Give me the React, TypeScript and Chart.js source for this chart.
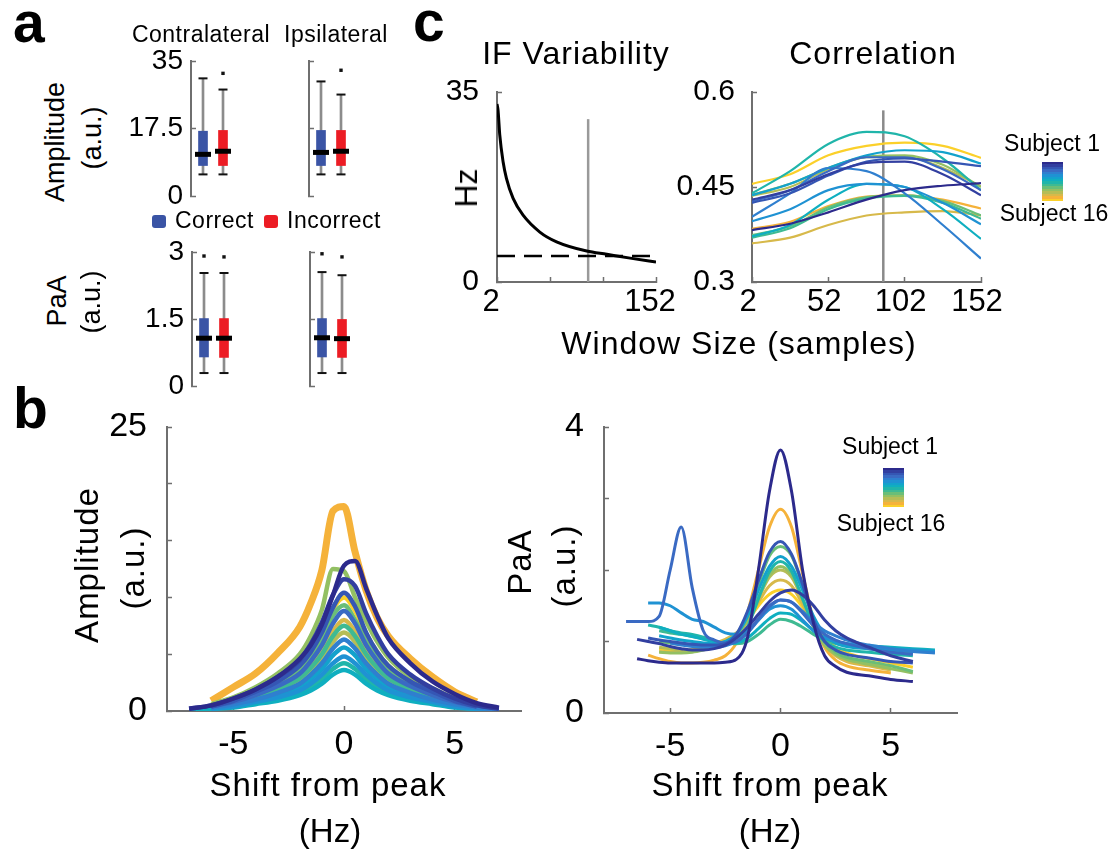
import React, { useEffect, useRef } from 'react';
import { Chart, registerables } from 'chart.js';

Chart.register(...registerables);

const FONT = "'Liberation Sans', Arial, Helvetica, sans-serif";
Chart.defaults.font.family = FONT;
Chart.defaults.color = '#000';

const AXIS = '#6f6f6f';

// ---------- shared: subject colours (Subject 1 .. Subject 16)
const SUBJECT_COLORS = [
  '#2c2a8c', '#323fa0', '#3556b4', '#3a6ac3', '#2f7fcf', '#1f92d3', '#13a2cc', '#0fafc0',
  '#20b5aa', '#3fba92', '#6abe78', '#93c063', '#b6bd56', '#d7b94a', '#f5b23a', '#fbd02a',
];

// ---------- panel a : box plots
const GROUPS = ['Correct', 'Incorrect'];
const GROUP_POS = [1, 2];
const GROUP_COLORS = ['#3a54a5', '#ec1c24'];
const AMP_BOX_TICKS = [0, 17.5, 35];
const AMP_BOX_LABELS = ['0', '17.5', '35'];
const PAA_BOX_TICKS = [0, 1.5, 3];
const PAA_BOX_LABELS = ['0', '1.5', '3'];

const AMP_CONTRA = { low: [5.6, 5.6], q1: [7.9, 7.9], med: [10.8, 11.6], q3: [16.8, 17.0], high: [30.5, 27.6], out: [[], [31.8]] };
const AMP_IPSI = { low: [5.6, 5.6], q1: [7.9, 7.9], med: [11.3, 11.6], q3: [17.0, 17.0], high: [29.7, 26.3], out: [[], [32.6]] };
const PAA_CONTRA = { low: [0.29, 0.29], q1: [0.65, 0.64], med: [1.07, 1.07], q3: [1.51, 1.51], high: [2.53, 2.53], out: [[2.91], [2.89]] };
const PAA_IPSI = { low: [0.29, 0.29], q1: [0.65, 0.64], med: [1.08, 1.06], q3: [1.51, 1.49], high: [2.55, 2.48], out: [[2.96], [2.89]] };

// ---------- panel b : amplitude vs shift from peak
const AMP_X = [-7, -6, -5, -4, -3, -2, -1.5, -1, -0.5, 0, 0.5, 1, 1.5, 2, 3, 4, 5, 6, 7];
const AMP_SUBJECTS: (number | null)[][] = [
  [0.2, 0.5, 1.1, 1.9, 3.0, 4.6, 5.8, 7.6, 10.2, 12.8, 13.2, 10.8, 8.4, 6.4, 4.2, 2.6, 1.5, 0.7, 0.3],
  [0.2, 0.5, 1.1, 1.9, 3.0, 4.5, 5.9, 7.8, 10.2, 11.6, 11.0, 8.6, 6.6, 5.0, 3.2, 2.0, 1.1, 0.5, 0.2],
  [null, 0.4, 0.9, 1.7, 2.6, 4.0, 5.2, 6.9, 9.1, 10.4, 9.2, 6.9, 5.2, 4.0, 2.6, 1.7, 0.9, 0.4, null],
  [null, 0.4, 0.8, 1.4, 2.2, 3.3, 4.4, 5.8, 7.7, 8.8, 7.7, 5.8, 4.4, 3.3, 2.2, 1.4, 0.8, 0.4, null],
  [null, 0.3, 0.6, 1.0, 1.6, 2.4, 3.2, 4.2, 5.5, 6.3, 5.5, 4.2, 3.2, 2.4, 1.6, 1.0, 0.6, 0.3, 0.1],
  [null, 0.2, 0.4, 0.8, 1.2, 1.8, 2.4, 3.2, 4.2, 4.8, 4.2, 3.2, 2.4, 1.8, 1.2, 0.8, 0.4, 0.2, 0.1],
  [null, 0.3, 0.5, 0.9, 1.4, 2.1, 2.8, 3.7, 4.9, 5.6, 4.9, 3.7, 2.8, 2.1, 1.4, 0.9, 0.5, 0.3, 0.1],
  [0.1, 0.2, 0.3, 0.6, 0.9, 1.4, 1.8, 2.4, 3.2, 3.6, 3.2, 2.4, 1.8, 1.4, 0.9, 0.6, 0.3, 0.2, 0.1],
  [null, 0.2, 0.4, 0.7, 1.1, 1.6, 2.1, 2.8, 3.7, 4.2, 3.7, 2.8, 2.1, 1.6, 1.1, 0.7, 0.4, 0.2, 0.1],
  [null, 0.3, 0.7, 1.2, 1.9, 2.9, 3.8, 5.0, 6.6, 7.5, 6.6, 5.0, 3.8, 2.9, 1.9, 1.2, 0.7, 0.3, null],
  [null, 0.4, 0.9, 1.5, 2.4, 3.6, 4.8, 6.3, 8.4, 9.3, 8.0, 6.1, 4.6, 3.5, 2.3, 1.5, 0.8, 0.4, null],
  [null, 0.6, 1.2, 2.1, 3.3, 5.0, 6.6, 8.9, 12.5, 12.3, 10.0, 7.9, 6.1, 4.7, 3.0, 2.0, 1.1, 0.5, null],
  [null, 0.3, 0.6, 1.1, 1.7, 2.6, 3.5, 4.6, 6.1, 6.9, 6.1, 4.6, 3.5, 2.6, 1.7, 1.1, 0.6, 0.3, null],
  [null, 0.4, 0.7, 1.3, 2.0, 3.0, 4.0, 5.3, 7.0, 8.0, 7.0, 5.3, 4.0, 3.0, 2.0, 1.3, 0.7, 0.4, null],
  [null, 0.9, 2.1, 3.3, 5.1, 7.4, 9.5, 12.4, 17.6, 18.0, 14.0, 10.6, 8.2, 6.6, 4.6, 3.0, 1.7, 0.8, null],
  [null, 0.5, 1.0, 1.7, 2.7, 4.0, 5.3, 7.0, 9.0, 10.0, 8.8, 6.8, 5.2, 4.0, 2.6, 1.7, 0.9, 0.4, null],
];
const SHIFT_TICKS = [-5, 0, 5];
const SHIFT_LABELS = ['-5', '0', '5'];
const AMP_B_TICKS = [0, 5, 10, 15, 20, 25];
const AMP_B_LABELS = ['0', '', '', '', '', '25'];

// ---------- panel b : PaA vs shift from peak
const PAA_X = [-7, -6.5, -6, -5.5, -5, -4.5, -4, -3.5, -3, -2.5, -2, -1.5, -1, -0.5, 0, 0.5, 1, 1.5, 2, 2.5, 3, 4, 5, 6, 7];
const PAA_SUBJECTS: (number | null)[][] = [
  [null, 0.76, 0.73, 0.71, 0.7, 0.7, 0.7, 0.7, 0.7, 0.71, 0.75, 1.05, 2.0, 3.1, 3.68, 3.1, 2.0, 1.25, 0.8, 0.65, 0.57, 0.52, 0.47, 0.44, null],
  [null, 1.03, 1.0, 0.97, 0.93, 0.9, 0.88, 0.88, 0.9, 0.95, 1.05, 1.2, 1.38, 1.56, 1.68, 1.72, 1.65, 1.5, 1.3, 1.15, 1.05, 0.92, 0.8, 0.72, null],
  [null, null, 1.05, 1.02, 1.0, 0.98, 0.96, 0.95, 0.95, 0.97, 1.1, 1.42, 1.85, 2.25, 2.4, 2.22, 1.8, 1.3, 1.0, 0.88, 0.82, 0.77, 0.72, 0.7, null],
  [1.28, 1.28, 1.28, 1.35, 2.0, 2.6, 1.75, 1.15, 1.02, 0.98, 1.0, 1.12, 1.32, 1.5, 1.58, 1.55, 1.4, 1.22, 1.1, 1.02, 0.97, 0.9, 0.85, 0.82, null],
  [null, null, null, null, 0.98, 0.95, 0.93, 0.92, 0.92, 0.94, 1.0, 1.12, 1.3, 1.48, 1.58, 1.55, 1.42, 1.27, 1.15, 1.08, 1.02, 0.95, 0.9, 0.86, 0.84],
  [null, null, 1.54, 1.54, 1.5, 1.4, 1.31, 1.28, 1.2, 1.12, 1.1, 1.15, 1.3, 1.45, 1.5, 1.45, 1.3, 1.15, 1.05, 1.0, 0.97, 0.93, 0.9, 0.88, 0.86],
  [null, null, null, 1.08, 1.05, 1.02, 1.0, 0.98, 0.97, 1.0, 1.1, 1.35, 1.72, 2.05, 2.19, 2.05, 1.72, 1.35, 1.1, 0.98, 0.93, 0.9, 0.88, 0.87, 0.85],
  [null, null, null, 1.2, 1.15, 1.1, 1.07, 1.03, 1.0, 0.98, 0.98, 1.05, 1.18, 1.32, 1.4, 1.38, 1.28, 1.15, 1.05, 1.0, 0.97, 0.94, 0.92, 0.9, 0.88],
  [null, null, 1.23, 1.2, 1.15, 1.12, 1.1, 1.06, 1.0, 0.97, 1.0, 1.2, 1.6, 1.98, 2.12, 1.98, 1.6, 1.22, 1.0, 0.92, 0.88, 0.85, 0.82, 0.8, null],
  [null, null, null, 1.15, 1.12, 1.1, 1.07, 1.04, 1.0, 0.98, 0.97, 1.0, 1.1, 1.23, 1.31, 1.28, 1.2, 1.1, 1.02, 0.97, 0.94, 0.9, 0.87, 0.85, null],
  [null, null, null, 1.0, 0.98, 0.96, 0.95, 0.95, 0.96, 1.0, 1.1, 1.38, 1.8, 2.2, 2.33, 2.2, 1.78, 1.3, 1.0, 0.85, 0.78, 0.72, 0.66, 0.58, null],
  [null, null, null, 0.85, 0.84, 0.84, 0.85, 0.88, 0.92, 0.98, 1.08, 1.3, 1.62, 1.93, 2.05, 1.93, 1.6, 1.22, 0.95, 0.82, 0.75, 0.68, 0.62, 0.56, null],
  [null, null, null, 0.92, 0.9, 0.88, 0.88, 0.9, 0.93, 0.98, 1.08, 1.28, 1.6, 1.9, 2.0, 1.9, 1.58, 1.2, 0.95, 0.82, 0.75, 0.7, 0.64, null, null],
  [null, null, null, 0.86, 0.85, 0.86, 0.88, 0.92, 0.97, 1.03, 1.12, 1.3, 1.55, 1.78, 1.86, 1.78, 1.52, 1.2, 0.95, 0.8, 0.72, 0.66, 0.6, null, null],
  [null, null, 0.81, 0.76, 0.72, 0.7, 0.7, 0.71, 0.74, 0.8, 0.98, 1.4, 2.0, 2.6, 2.85, 2.6, 1.95, 1.3, 0.92, 0.74, 0.66, 0.6, 0.56, null, null],
  [null, null, null, 0.9, 0.88, 0.87, 0.88, 0.9, 0.94, 1.0, 1.1, 1.28, 1.5, 1.66, 1.72, 1.66, 1.48, 1.25, 1.05, 0.92, 0.84, 0.76, 0.7, 0.64, null],
];
const PAA_B_TICKS = [0, 1, 2, 3, 4];
const PAA_B_LABELS = ['0', '', '', '', '4'];

// ---------- panel c : IF variability and correlation vs window size
const WINDOW_TICKS = [2, 52, 102, 152];
const SELECTED_WINDOW = 88;
const IF_X = [2, 3, 4.6, 7.7, 10.9, 17.2, 26.6, 42.4, 58.2, 86.6, 105.6, 127.6, 152];
const IF_Y = [32.8, 31.6, 27.1, 22.2, 19.1, 15.4, 12.3, 9.2, 7.4, 5.7, 5.1, 4.4, 3.7];
const IF_THRESHOLD = 4.8;
const IF_SELECTED_TOP = 30;
const IF_TICKS = [0, 35];
const CORR_X = [2, 27, 52, 77, 102, 127, 152];
const CORR_SUBJECTS: number[][] = [
  [0.382, 0.392, 0.41, 0.43, 0.445, 0.452, 0.456],
  [0.43, 0.445, 0.47, 0.488, 0.49, 0.47, 0.437],
  [0.425, 0.44, 0.468, 0.49, 0.495, 0.49, 0.483],
  [0.427, 0.445, 0.475, 0.497, 0.497, 0.478, 0.445],
  [0.403, 0.44, 0.48, 0.475, 0.44, 0.39, 0.337],
  [0.396, 0.415, 0.445, 0.455, 0.45, 0.425, 0.391],
  [0.437, 0.455, 0.48, 0.5, 0.508, 0.505, 0.487],
  [0.372, 0.39, 0.43, 0.455, 0.45, 0.415, 0.368],
  [0.44, 0.475, 0.518, 0.537, 0.53, 0.495, 0.445],
  [0.37, 0.385, 0.415, 0.432, 0.436, 0.425, 0.4],
  [0.374, 0.388, 0.418, 0.434, 0.437, 0.428, 0.405],
  [0.438, 0.455, 0.48, 0.498, 0.5, 0.485, 0.45],
  [0.436, 0.45, 0.478, 0.497, 0.498, 0.48, 0.451],
  [0.361, 0.37, 0.39, 0.405, 0.41, 0.412, 0.405],
  [0.384, 0.395, 0.42, 0.435, 0.437, 0.43, 0.416],
  [0.455, 0.47, 0.5, 0.515, 0.52, 0.515, 0.496],
];
const CORR_TICKS = [0.3, 0.45, 0.6];
const CORR_SELECTED_TOP = 0.571;

// ---------- helpers
type Area = { x: number; y: number; w: number; h: number };

function pts(xs: number[], ys: (number | null)[]) {
  return xs.map((x, i) => ({ x, y: ys[i] })).filter((p) => p.y !== null) as { x: number; y: number }[];
}

function makeScale(o: {
  min: number; max: number; ticks: number[]; labels?: string[]; size?: number; pad?: number;
  fit: number; horizontal: boolean; display?: boolean; labelOffset?: number;
}) {
  const labels = o.labels;
  return {
    type: 'linear',
    min: o.min,
    max: o.max,
    offset: false,
    display: o.display !== false,
    afterBuildTicks: (s: any) => { s.ticks = o.ticks.map((v) => ({ value: v })); },
    afterFit: (s: any) => { if (o.horizontal) s.height = o.fit; else s.width = o.fit; },
    border: { display: true, color: AXIS, width: 2 },
    grid: { display: true, offset: false, drawOnChartArea: false, drawTicks: true, tickLength: -5, tickColor: AXIS, tickWidth: 1.5 },
    ticks: {
      display: !!labels, autoSkip: false, maxRotation: 0, minRotation: 0,
      padding: o.pad ?? 10, labelOffset: o.labelOffset ?? 0, color: '#000', font: { size: o.size ?? 28, family: FONT },
      callback: (_v: any, i: number) => (labels ? labels[i] : ''),
    },
  };
}

const BASE = {
  responsive: false,
  animation: false,
  events: [] as any[],
  plugins: { legend: { display: false }, tooltip: { enabled: false } },
};

function ChartCanvas(props: { area: Area; yW: number; xH: number; pt?: number; pr?: number; pb?: number; build: () => any }) {
  const { area, yW, xH } = props;
  const pt = props.pt ?? 50;
  const pr = props.pr ?? 45;
  const pb = props.pb ?? 0;
  const ref = useRef<HTMLCanvasElement>(null);
  const left = area.x - yW;
  const top = area.y - pt;
  const width = area.w + yW + pr;
  const height = area.h + pt + xH + pb;
  useEffect(() => {
    const cfg = props.build();
    cfg.options.layout = { padding: { left: 0, top: pt, right: pr, bottom: pb } };
    const chart = new Chart(ref.current as HTMLCanvasElement, cfg);
    return () => chart.destroy();
  }, []);
  return (
    <canvas ref={ref} width={width} height={height}
      style={{ position: 'absolute', left, top, width, height }} />
  );
}

function boxChart(d: typeof AMP_CONTRA, max: number, ticks: number[], labels: string[] | undefined) {
  return () => ({
    type: 'bar',
    data: {
      datasets: [
        {
          type: 'scatter', order: 0, label: 'median',
          data: GROUP_POS.map((x, i) => ({ x, y: d.med[i] })),
          pointStyle: 'line', pointRadius: 8, pointBorderWidth: 5, pointBorderColor: '#000', pointBackgroundColor: '#000',
        },
        {
          type: 'scatter', order: 1, label: 'caps',
          data: [...GROUP_POS.map((x, i) => ({ x, y: d.low[i] })), ...GROUP_POS.map((x, i) => ({ x, y: d.high[i] }))],
          pointStyle: 'line', pointRadius: 4.5, pointBorderWidth: 2, pointBorderColor: '#111', pointBackgroundColor: '#111',
        },
        {
          type: 'scatter', order: 1, label: 'outliers',
          data: GROUP_POS.flatMap((x, i) => d.out[i].map((y) => ({ x, y }))),
          pointStyle: 'rect', pointRadius: 2.4, pointBorderWidth: 0, pointBackgroundColor: '#111',
        },
        {
          type: 'bar', order: 2, label: 'box',
          data: GROUP_POS.map((x, i) => ({ x, y: [d.q1[i], d.q3[i]] })),
          backgroundColor: GROUP_COLORS, barThickness: 9, grouped: false, borderWidth: 0,
        },
        {
          type: 'bar', order: 3, label: 'whisker',
          data: GROUP_POS.map((x, i) => ({ x, y: [d.low[i], d.high[i]] })),
          backgroundColor: '#8c8c8c', barThickness: 2, grouped: false, borderWidth: 0,
        },
      ],
    },
    options: {
      ...BASE,
      scales: {
        x: makeScale({ min: 0.4, max: 2.6, ticks: GROUP_POS, fit: 0, horizontal: true, display: false }),
        y: makeScale({ min: 0, max, ticks, labels, size: 28, pad: 13, fit: labels ? 70 : 20, horizontal: false }),
      },
    },
  });
}

function subjectLines(xs: number[], series: (number | null)[][], width: (i: number) => number) {
  return series.map((ys, s) => ({
    label: `Subject ${s + 1}`,
    data: pts(xs, ys),
    showLine: true,
    borderColor: SUBJECT_COLORS[s],
    backgroundColor: SUBJECT_COLORS[s],
    borderWidth: width(s),
    pointRadius: 0,
    cubicInterpolationMode: 'monotone',
  }));
}

const ampBChart = () => ({
  type: 'scatter',
  data: { datasets: subjectLines(AMP_X, AMP_SUBJECTS, (s) => (s === 14 ? 7 : 4.5)) },
  options: {
    ...BASE,
    scales: {
      x: makeScale({ min: -8, max: 8, ticks: SHIFT_TICKS, labels: SHIFT_LABELS, size: 34, pad: 18, fit: 90, horizontal: true }),
      y: makeScale({ min: 0, max: 25, ticks: AMP_B_TICKS, labels: AMP_B_LABELS, size: 34, pad: 25, fit: 90, horizontal: false }),
    },
  },
});

const paaBChart = () => ({
  type: 'scatter',
  data: { datasets: subjectLines(PAA_X, PAA_SUBJECTS, () => 3) },
  options: {
    ...BASE,
    scales: {
      x: makeScale({ min: -8, max: 8, ticks: SHIFT_TICKS, labels: SHIFT_LABELS, size: 34, pad: 18, fit: 90, horizontal: true }),
      y: makeScale({ min: 0, max: 4, ticks: PAA_B_TICKS, labels: PAA_B_LABELS, size: 34, pad: 25, fit: 90, horizontal: false }),
    },
  },
});

const ifChart = () => ({
  type: 'scatter',
  data: {
    datasets: [
      { label: 'IF variability', data: pts(IF_X, IF_Y), showLine: true, borderColor: '#000', borderWidth: 3, pointRadius: 0, cubicInterpolationMode: 'monotone' },
      {
        label: 'threshold', data: [{ x: WINDOW_TICKS[0], y: IF_THRESHOLD }, { x: WINDOW_TICKS[WINDOW_TICKS.length - 1], y: IF_THRESHOLD }],
        showLine: true, borderColor: '#000', borderWidth: 2.5, borderDash: [18, 9], pointRadius: 0,
      },
      {
        label: 'selected', data: [{ x: SELECTED_WINDOW, y: 0 }, { x: SELECTED_WINDOW, y: IF_SELECTED_TOP }],
        showLine: true, borderColor: '#9a9a9a', borderWidth: 2.5, pointRadius: 0,
      },
    ],
  },
  options: {
    ...BASE,
    scales: {
      x: makeScale({ min: 2, max: 152, ticks: WINDOW_TICKS, labels: ['2', '', '', '152'], size: 31, pad: 7, fit: 60, horizontal: true, labelOffset: -6 }),
      y: makeScale({ min: 0, max: 35, ticks: IF_TICKS, labels: ['0', '35'], size: 30, pad: 23, fit: 70, horizontal: false }),
    },
  },
});

const corrChart = () => ({
  type: 'scatter',
  data: {
    datasets: [
      ...subjectLines(CORR_X, CORR_SUBJECTS, () => 2.2),
      {
        label: 'selected', data: [{ x: SELECTED_WINDOW, y: CORR_TICKS[0] }, { x: SELECTED_WINDOW, y: CORR_SELECTED_TOP }],
        showLine: true, borderColor: '#8a8a8a', borderWidth: 2.5, pointRadius: 0,
      },
    ],
  },
  options: {
    ...BASE,
    scales: {
      x: makeScale({ min: 2, max: 152, ticks: WINDOW_TICKS, labels: WINDOW_TICKS.map(String), size: 31, pad: 7, fit: 60, horizontal: true, labelOffset: -4 }),
      y: makeScale({ min: 0.3, max: 0.6, ticks: CORR_TICKS, labels: ['0.3', '0.45', '0.6'], size: 30, pad: 22, fit: 80, horizontal: false }),
    },
  },
});

// ---------- text helpers
function Txt(p: { x: number; y: number; size: number; children: React.ReactNode; align?: 'left' | 'center' | 'right'; bold?: boolean; rot?: boolean; ls?: number }) {
  const style: React.CSSProperties = {
    position: 'absolute', whiteSpace: 'nowrap', fontFamily: FONT, fontSize: p.size, lineHeight: `${p.size}px`,
    fontWeight: p.bold ? 700 : 400, color: '#000', letterSpacing: p.ls ?? 0,
  };
  if (p.rot) {
    style.left = p.x;
    style.top = p.y;
    style.transform = 'translate(-50%, -50%) rotate(-90deg)';
  } else {
    style.left = p.x;
    style.top = p.y - 0.85 * p.size;
    const a = p.align ?? 'center';
    if (a === 'center') style.transform = 'translateX(-50%)';
    if (a === 'right') style.transform = 'translateX(-100%)';
  }
  return <div style={style}>{p.children}</div>;
}

function ColorBar(p: { x: number; y: number; w: number; h: number }) {
  const n = SUBJECT_COLORS.length;
  const stops = SUBJECT_COLORS.map((c, i) => `${c} ${((i * 100) / n).toFixed(2)}%, ${c} ${(((i + 1) * 100) / n).toFixed(2)}%`).join(', ');
  return <div style={{ position: 'absolute', left: p.x, top: p.y, width: p.w, height: p.h, background: `linear-gradient(to bottom, ${stops})` }} />;
}

function Swatch(p: { x: number; y: number; color: string }) {
  return <div style={{ position: 'absolute', left: p.x, top: p.y, width: 14, height: 13, borderRadius: 3, background: p.color }} />;
}

export default function App() {
  return (
    <div style={{ position: 'absolute', left: 0, top: 0, width: 1110, height: 854, background: '#fff', overflow: 'hidden' }}>
      {/* panel a */}
      <ChartCanvas area={{ x: 191, y: 61, w: 44, h: 135 }} yW={70} xH={0} pb={50} pr={20} build={boxChart(AMP_CONTRA, 35, AMP_BOX_TICKS, AMP_BOX_LABELS)} />
      <ChartCanvas area={{ x: 309, y: 61, w: 44, h: 135 }} yW={20} xH={0} pb={50} pr={20} build={boxChart(AMP_IPSI, 35, AMP_BOX_TICKS, undefined)} />
      <ChartCanvas area={{ x: 192, y: 252, w: 44, h: 134 }} yW={70} xH={0} pb={50} pr={20} build={boxChart(PAA_CONTRA, 3, PAA_BOX_TICKS, PAA_BOX_LABELS)} />
      <ChartCanvas area={{ x: 310, y: 252, w: 44, h: 134 }} yW={20} xH={0} pb={50} pr={20} build={boxChart(PAA_IPSI, 3, PAA_BOX_TICKS, undefined)} />

      {/* panel c */}
      <ChartCanvas area={{ x: 497, y: 92, w: 159, h: 190 }} yW={70} xH={60} build={ifChart} />
      <ChartCanvas area={{ x: 752, y: 92, w: 229, h: 190 }} yW={80} xH={60} build={corrChart} />

      {/* panel b */}
      <ChartCanvas area={{ x: 167, y: 427, w: 354, h: 284 }} yW={90} xH={90} build={ampBChart} />
      <ChartCanvas area={{ x: 604, y: 427, w: 353, h: 286 }} yW={90} xH={90} build={paaBChart} />

      {/* panel letters */}
      <Txt x={13} y={42} size={57} bold align="left">a</Txt>
      <Txt x={13} y={428} size={57} bold align="left">b</Txt>
      <Txt x={413} y={41} size={57} bold align="left">c</Txt>

      {/* panel a texts */}
      <Txt x={201} y={43} size={23} ls={0.5}>Contralateral</Txt>
      <Txt x={336} y={43} size={23} ls={0.5}>Ipsilateral</Txt>
      <Txt x={55} y={142} size={27} rot>Amplitude</Txt>
      <Txt x={92} y={138} size={27} rot>(a.u.)</Txt>
      <Txt x={57} y={301} size={27} rot>PaA</Txt>
      <Txt x={91} y={302} size={27} rot>(a.u.)</Txt>
      <Swatch x={152} y={215} color={GROUP_COLORS[0]} />
      <Txt x={175} y={229} size={23} align="left" ls={0.5}>{GROUPS[0]}</Txt>
      <Swatch x={264} y={215} color={GROUP_COLORS[1]} />
      <Txt x={287} y={229} size={23} align="left" ls={0.5}>{GROUPS[1]}</Txt>

      {/* panel c texts */}
      <Txt x={576} y={64} size={32} ls={1}>IF Variability</Txt>
      <Txt x={873} y={64} size={32} ls={1}>Correlation</Txt>
      <Txt x={466} y={188} size={32} rot>Hz</Txt>
      <Txt x={739} y={354} size={32} ls={1}>Window Size (samples)</Txt>
      <Txt x={1052} y={152} size={23}>Subject 1</Txt>
      <ColorBar x={1042} y={162} w={21} h={39} />
      <Txt x={1054} y={222} size={23}>Subject 16</Txt>

      {/* panel b texts */}
      <Txt x={86} y={565} size={33} rot ls={1}>Amplitude</Txt>
      <Txt x={132} y={568} size={33} rot ls={1}>(a.u.)</Txt>
      <Txt x={519} y={562} size={33} rot ls={1}>PaA</Txt>
      <Txt x={563} y={566} size={33} rot ls={1}>(a.u.)</Txt>
      <Txt x={328} y={796} size={33} ls={1}>Shift from peak</Txt>
      <Txt x={330} y={842} size={33}>(Hz)</Txt>
      <Txt x={770} y={796} size={33} ls={1}>Shift from peak</Txt>
      <Txt x={770} y={842} size={33}>(Hz)</Txt>
      <Txt x={890} y={455} size={23}>Subject 1</Txt>
      <ColorBar x={883} y={468} w={21} h={39} />
      <Txt x={891} y={532} size={23}>Subject 16</Txt>
    </div>
  );
}
